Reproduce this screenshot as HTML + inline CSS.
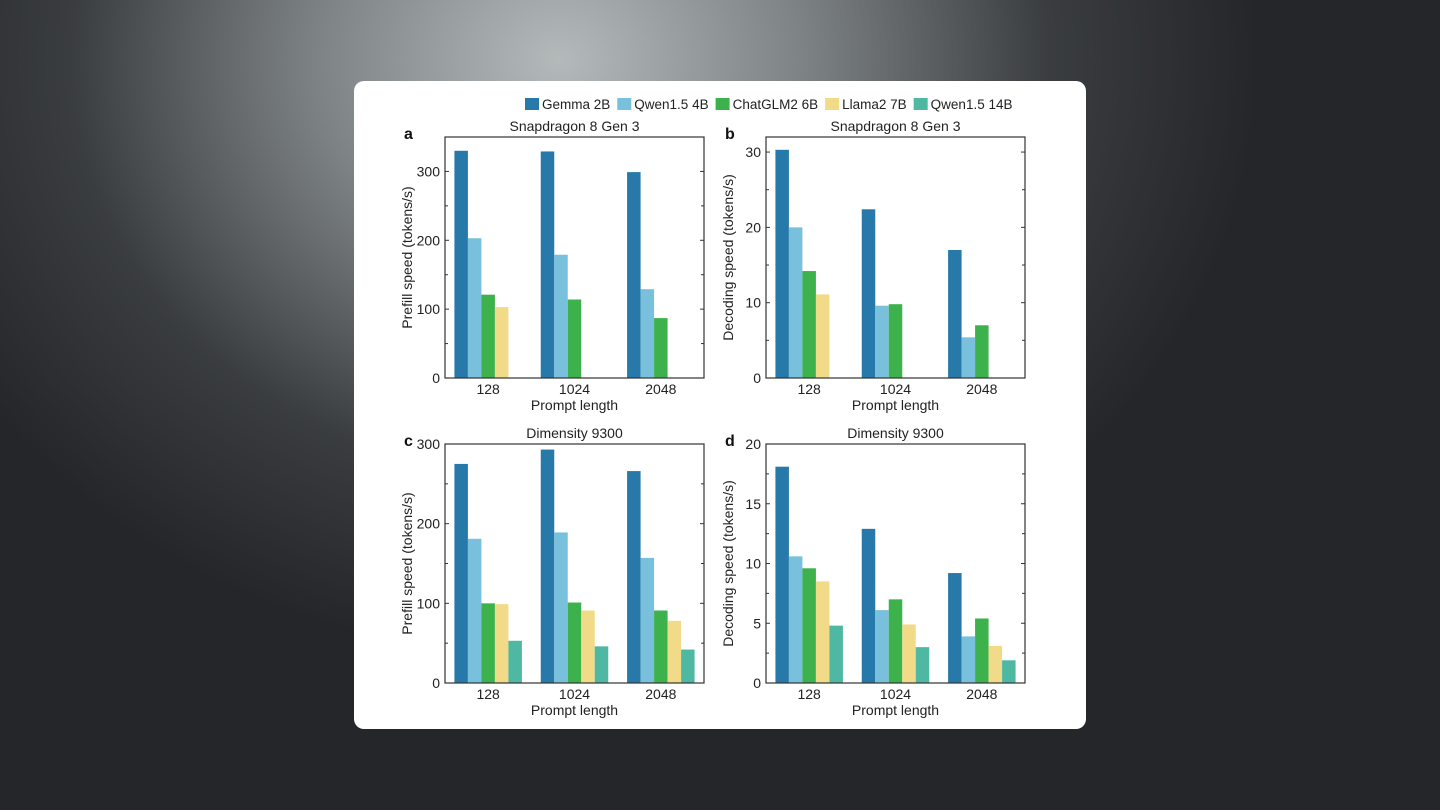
<!DOCTYPE html>
<html><head><meta charset="utf-8"><style>
html,body{margin:0;padding:0;width:1440px;height:810px;overflow:hidden;}
body{background:radial-gradient(ellipse 700px 600px at 560px 60px,#b4b9ba 0%,#7d8284 35%,#3a3d40 70%,#24262a 100%);font-family:"Liberation Sans",sans-serif;}
#card{position:absolute;left:354px;top:81px;width:732px;height:648px;background:#fff;border-radius:10px;}
svg{position:absolute;left:0;top:0;}
</style></head><body>
<div id="card"></div>
<svg id="fig" width="1440" height="810" font-family="Liberation Sans, sans-serif"></svg>
<script>
const series = ["Gemma 2B","Qwen1.5 4B","ChatGLM2 6B","Llama2 7B","Qwen1.5 14B"];
const colors = ["#2679a8","#79c0dc","#3db24c","#f1db88","#4fb8a3"];
const categories = ["128","1024","2048"];
const aGemma=[330,329,299], aQwen4=[203,179,129], aGLM=[121,114,87], aLlama=[103,null,null], aQwen14=[null,null,null];
const bGemma=[30.3,22.4,17], bQwen4=[20,9.6,5.4], bGLM=[14.2,9.8,7], bLlama=[11.1,null,null], bQwen14=[null,null,null];
const cGemma=[275,293,266], cQwen4=[181,189,157], cGLM=[100,101,91], cLlama=[99,91,78], cQwen14=[53,46,42];
const dGemma=[18.1,12.9,9.2], dQwen4=[10.6,6.1,3.9], dGLM=[9.6,7.0,5.4], dLlama=[8.5,4.9,3.1], dQwen14=[4.8,3.0,1.9];
const aTicks=[0,100,200,300], bTicks=[0,10,20,30], cTicks=[0,100,200,300], dTicks=[0,5,10,15,20];
const svg=document.getElementById('fig');
const NS='http://www.w3.org/2000/svg';
function mk(tag,attrs,parent){const e=document.createElementNS(NS,tag);for(const k in attrs)e.setAttribute(k,attrs[k]);(parent||svg).appendChild(e);return e;}
function txt(x,y,s,size,anchor,parent,extra){const t=mk('text',Object.assign({x:x,y:y,'font-size':size,'text-anchor':anchor||'middle',fill:'#222'},extra||{}),parent);t.textContent=s;return t;}

// legend
let lx=525;
series.forEach((s,i)=>{
  const g=mk('g',{});
  
  
  mk('rect',{x:lx,y:98,width:14,height:12,fill:colors[i]},g);
  const t=txt(lx+17,109,s,13.5,'start',g);
  lx+=17+t.getComputedTextLength()+7;
});

function panel(name,letter,title,x0,y0,w,h,ymax,ticks,ylabel,data){
  const g=mk('g',{});
  
  
  const ys=v=>y0+h-v/ymax*h;
  const gw=w/categories.length, bw=13.5;
  data.forEach((arr,si)=>{arr.forEach((v,ci)=>{
    if(v==null)return;
    const cx=x0+gw*(ci+0.5);
    const r=mk('rect',{x:cx-2.5*bw+si*bw,y:ys(v),width:bw,height:ys(0)-ys(v),fill:colors[si]},g);
    
    
  });});
  mk('rect',{x:x0,y:y0,width:w,height:h,fill:'none',stroke:'#333','stroke-width':1.2},g);
  const step=ticks[1]-ticks[0];
  for(let v=0;v<=ymax+1e-9;v+=step/2){
    const y=ys(v), major=Math.abs((v/step)-Math.round(v/step))<1e-6;
    const L=major?4:3;
    mk('line',{x1:x0,x2:x0+L,y1:y,y2:y,stroke:'#333'},g);
    mk('line',{x1:x0+w,x2:x0+w-L,y1:y,y2:y,stroke:'#333'},g);
  }
  ticks.forEach(v=>txt(x0-5,ys(v)+5,String(v),14,'end',g));
  categories.forEach((c,ci)=>{const cx=x0+gw*(ci+0.5);txt(cx,y0+h+16,c,14,'middle',g);});
  const xt=txt(x0+w/2,y0+h+32,'Prompt length',14,'middle',g);
  
  
  const yt=txt(0,0,ylabel,14,'middle',g,{transform:`translate(${x0-33},${y0+h/2}) rotate(-90)`});
  
  
  const tt=txt(x0+w/2,y0-6,title,14,'middle',g);
  
  
  txt(x0-41,y0+2,letter,16,'start',g,{'font-weight':'bold',fill:'#111'});
}
panel('a','a','Snapdragon 8 Gen 3',445,137,259,241,350,aTicks,'Prefill speed (tokens/s)',[aGemma,aQwen4,aGLM,aLlama,aQwen14]);
panel('b','b','Snapdragon 8 Gen 3',766,137,259,241,32,bTicks,'Decoding speed (tokens/s)',[bGemma,bQwen4,bGLM,bLlama,bQwen14]);
panel('c','c','Dimensity 9300',445,444,259,239,300,cTicks,'Prefill speed (tokens/s)',[cGemma,cQwen4,cGLM,cLlama,cQwen14]);
panel('d','d','Dimensity 9300',766,444,259,239,20,dTicks,'Decoding speed (tokens/s)',[dGemma,dQwen4,dGLM,dLlama,dQwen14]);
</script>
</body></html>
